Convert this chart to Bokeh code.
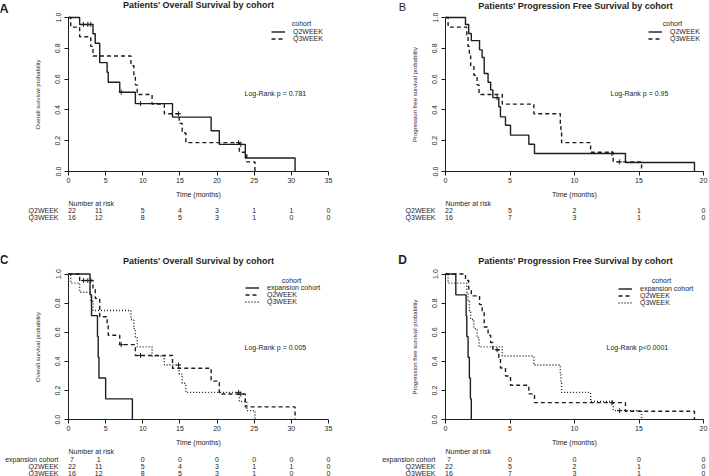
from bokeh.plotting import figure
from bokeh.layouts import gridplot
from bokeh.models import (Label, Legend, LegendItem, FixedTicker,
                          PrintfTickFormatter, Range1d)
from bokeh.embed import file_html
from bokeh.resources import INLINE

FONT = "Liberation Sans"
INK = "#1e1e1e"

# ---------------- data ----------------
# Overall survival
os_q2_time = [1.5, 3.3, 3.6, 4.2, 5.2, 5.35, 6.9, 9.0, 14.0, 19.2, 20.3, 23.8, 30.5]
os_q2_surv = [0.955, 0.894, 0.833, 0.707, 0.644, 0.580, 0.515, 0.441, 0.353, 0.265, 0.176, 0.088, 0.0]
os_q2_cens = [2.0, 2.6, 3.0, 7.1, 9.7, 23.2]

os_q3_time = [0.3, 1.5, 3.0, 3.3, 8.4, 8.8, 9.0, 9.25, 11.25, 12.9, 14.9, 15.3, 15.8, 23.0, 24.0, 25.1]
os_q3_surv = [0.9375, 0.875, 0.8125, 0.75, 0.6875, 0.625, 0.5625, 0.5, 0.4375, 0.375,
              0.3125, 0.25, 0.1875, 0.125, 0.0625, 0.0]
os_q3_cens = [14.8, 22.9]

os_exp_time = [2.9, 3.1, 3.9, 4.0, 4.1, 5.0, 8.6]
os_exp_surv = [0.857, 0.714, 0.571, 0.429, 0.286, 0.143, 0.0]
os_exp_cens = []

# Progression free survival
pfs_q2_time = [1.55, 1.8, 2.0, 2.64, 2.84, 3.0, 3.3, 3.5, 3.67, 4.13, 4.26, 4.65, 5.04, 6.46, 6.9, 13.95, 19.3]
pfs_q2_surv = [0.955, 0.896, 0.85, 0.79, 0.74, 0.636, 0.58, 0.53, 0.48, 0.42, 0.355, 0.30,
               0.236, 0.177, 0.117, 0.058, 0.0]
pfs_q2_cens = [4.0, 12.9]

pfs_q3_time = [0.2, 1.65, 1.75, 1.85, 1.95, 2.2, 2.45, 2.6, 4.4, 6.85, 8.9, 8.95, 9.0, 11.25, 13.0, 15.2]
pfs_q3_surv = [0.9375, 0.875, 0.8125, 0.75, 0.6875, 0.625, 0.5625, 0.5, 0.4375, 0.375,
               0.3125, 0.25, 0.1875, 0.125, 0.0625, 0.0]
pfs_q3_cens = [13.5]

pfs_exp_time = [0.8, 1.6, 1.65, 1.75, 1.85, 1.93, 2.0]
pfs_exp_surv = [0.857, 0.714, 0.571, 0.429, 0.286, 0.143, 0.0]
pfs_exp_cens = []

# Risk tables
os_risk_times = [0, 5, 10, 15, 20, 25, 30, 35]
os_risk_q2 = [22, 11, 5, 4, 3, 1, 1, 0]
os_risk_q3 = [16, 12, 8, 5, 3, 1, 0, 0]
os_risk_exp = [7, 1, 0, 0, 0, 0, 0, 0]

pfs_risk_times = [0, 5, 10, 15, 20]
pfs_risk_q2 = [22, 5, 2, 1, 0]
pfs_risk_q3 = [16, 7, 3, 1, 0]
pfs_risk_exp = [7, 0, 0, 0, 0]

y_ticks = [0.0, 0.2, 0.4, 0.6, 0.8, 1.0]

# ---------------- helpers ----------------
def txt(p, x, y, text, dx=0, dy=0, size="7px", align="center", style="normal"):
    p.add_layout(Label(x=x, y=y, x_offset=dx, y_offset=dy, text=text,
                       text_font=FONT, text_font_size=size, text_align=align,
                       text_baseline="middle", text_font_style=style,
                       text_color=INK))


def surv_at(times, surv, t):
    s = 1.0
    for ti, si in zip(times, surv):
        if ti <= t:
            s = si
    return s


def km(p, times, surv, cens, dash):
    r = p.step([0.0] + times, [1.0] + surv, mode="after", line_color=INK,
               line_width=1.4, line_dash=dash)
    if cens:
        p.scatter(cens, [surv_at(times, surv, c) for c in cens], marker="cross",
                  size=5, line_color=INK, line_width=1)
    return r


def make_fig(w, h, fl, fr, ft, fb, xmax, xticks, ylabel):
    # fl/fr/ft/fb: pixel positions of the data area (x=0, x=xmax, y=1, y=0)
    ux = xmax / (fr - fl)
    uy = 1.0 / (fb - ft)
    p = figure(width=w, height=h, title=None,
               x_range=Range1d(-fl * ux, xmax + (w - fr) * ux),
               y_range=Range1d(-(h - fb) * uy, 1 + ft * uy),
               output_backend="svg", toolbar_location=None, min_border=0)
    p.outline_line_color = None
    p.grid.visible = False
    p.background_fill_color = "white"
    p.border_fill_color = "white"
    for ax in (p.xaxis[0], p.yaxis[0]):
        ax.axis_line_color = INK
        ax.major_tick_line_color = INK
        ax.major_tick_out = 4
        ax.major_tick_in = 0
        ax.minor_tick_out = 0
        ax.minor_tick_in = 0
        ax.major_label_text_font = FONT
        ax.major_label_text_font_size = "7px"
        ax.major_label_text_color = INK
        ax.axis_label_text_font = FONT
        ax.axis_label_text_font_style = "normal"
        ax.axis_label_text_color = INK
        ax.fixed_location = 0
    xa = p.xaxis[0]
    xa.bounds = (0, xmax)
    xa.ticker = FixedTicker(ticks=xticks)
    xa.axis_label = "Time (months)"
    xa.axis_label_text_font_size = "7px"
    xa.major_label_standoff = 2
    xa.axis_label_standoff = 5
    ya = p.yaxis[0]
    ya.bounds = (0, 1)
    ya.ticker = FixedTicker(ticks=y_ticks)
    ya.formatter = PrintfTickFormatter(format="%.1f")
    ya.major_label_orientation = "vertical"
    ya.axis_label = ylabel
    ya.axis_label_text_font_size = "6px"
    ya.major_label_standoff = 4
    ya.axis_label_standoff = 12
    return p


def legend(p, items, x, y):
    leg = Legend(items=[LegendItem(label=l, renderers=[r]) for l, r in items],
                 location=(x, y), orientation="vertical", glyph_width=14,
                 glyph_height=7, label_height=7, spacing=0, padding=0, margin=0,
                 label_standoff=8, border_line_color=None,
                 background_fill_alpha=0, label_text_font=FONT,
                 label_text_font_size="7px", label_text_color=INK)
    p.add_layout(leg)


def risk(p, times, names, rows, col_dx):
    txt(p, 0, 0, "Number at risk", 0, -32, align="left")
    for i, (name, vals) in enumerate(zip(names, rows)):
        dy = -(39.3 + 7 * i)
        txt(p, 0, 0, name, -10, dy, align="right")
        for t, v in zip(times, vals):
            txt(p, t, 0, str(v), col_dx.get(t, 0), dy)


OS_COLS = {0: 3.5, 5: -7}
PFS_COLS = {0: 3.5}

# ---------------- Panel A ----------------
pA = make_fig(352, 240, 68, 328, 17, 171, 35, os_risk_times, "Overall survival probability")
rA2 = km(pA, os_q2_time, os_q2_surv, os_q2_cens, "solid")
rA3 = km(pA, os_q3_time, os_q3_surv, os_q3_cens, "4 3")
legend(pA, [("Q2WEEK", rA2), ("Q3WEEK", rA3)], 271, 198)
txt(pA, 0, 1, "cohort", 233, -6)
txt(pA, 0, 1, "Log-Rank p = 0.781", 176, -76, align="left")
txt(pA, 17.5, 1, "Patients' Overall Survival by cohort", 0, 12.5, size="9px", style="bold")
txt(pA, 0, 1, "A", -64.5, 9, size="13px", style="bold")
risk(pA, os_risk_times, ["Q2WEEK", "Q3WEEK"], [os_risk_q2, os_risk_q3], OS_COLS)

# ---------------- Panel B ----------------
pB = make_fig(357, 240, 93, 351, 17, 171, 20, pfs_risk_times, "Progression free survival probability")
rB2 = km(pB, pfs_q2_time, pfs_q2_surv, pfs_q2_cens, "solid")
rB3 = km(pB, pfs_q3_time, pfs_q3_surv, pfs_q3_cens, "4 3")
legend(pB, [("Q2WEEK", rB2), ("Q3WEEK", rB3)], 296, 198.5)
txt(pB, 0, 1, "cohort", 227, -6)
txt(pB, 0, 1, "Log-Rank p = 0.95", 165, -76, align="left")
txt(pB, 10, 1, "Patients' Progression Free Survival by cohort", 1, 12, size="9px", style="bold")
txt(pB, 0, 1, "B", -43, 10.5, size="11px")
risk(pB, pfs_risk_times, ["Q2WEEK", "Q3WEEK"], [pfs_risk_q2, pfs_risk_q3], PFS_COLS)

# ---------------- Panel C ----------------
pC = make_fig(352, 236, 68, 328, 33.5, 179.2, 35, os_risk_times, "Overall survival probability")
rC1 = km(pC, os_exp_time, os_exp_surv, os_exp_cens, "solid")
rC2 = km(pC, os_q2_time, os_q2_surv, os_q2_cens, "4 3")
rC3 = km(pC, os_q3_time, os_q3_surv, os_q3_cens, "1 2")
legend(pC, [("expansion cohort", rC1), ("Q2WEEK", rC2), ("Q3WEEK", rC3)], 245, 171)
txt(pC, 0, 1, "cohort", 223, -6.5)
txt(pC, 0, 1, "Log-Rank p = 0.005", 176, -73.5, align="left")
txt(pC, 17.5, 1, "Patients' Overall Survival by cohort", 0, 13.5, size="9px", style="bold")
txt(pC, 0, 1, "C", -64.5, 14.5, size="12px", style="bold")
risk(pC, os_risk_times, ["expansion cohort", "Q2WEEK", "Q3WEEK"],
     [os_risk_exp, os_risk_q2, os_risk_q3], OS_COLS)

# ---------------- Panel D ----------------
pD = make_fig(357, 236, 93, 351, 33.5, 179.2, 20, pfs_risk_times, "Progression free survival probability")
rD1 = km(pD, pfs_exp_time, pfs_exp_surv, pfs_exp_cens, "solid")
rD2 = km(pD, pfs_q2_time, pfs_q2_surv, pfs_q2_cens, "4 3")
rD3 = km(pD, pfs_q3_time, pfs_q3_surv, pfs_q3_cens, "1 2")
legend(pD, [("expansion cohort", rD1), ("Q2WEEK", rD2), ("Q3WEEK", rD3)], 266, 170.5)
txt(pD, 0, 1, "cohort", 216, -6.5)
txt(pD, 0, 1, "Log-Rank p<0.0001", 161, -73.5, align="left")
txt(pD, 10, 1, "Patients' Progression Free Survival by cohort", 1, 13.5, size="9px", style="bold")
txt(pD, 0, 1, "D", -43, 14.5, size="12px", style="bold")
risk(pD, pfs_risk_times, ["expansion cohort", "Q2WEEK", "Q3WEEK"],
     [pfs_risk_exp, pfs_risk_q2, pfs_risk_q3], PFS_COLS)

grid = gridplot([[pA, pB], [pC, pD]], toolbar_location=None)

with open("out.html", "w") as f:
    f.write(file_html(grid, INLINE))
